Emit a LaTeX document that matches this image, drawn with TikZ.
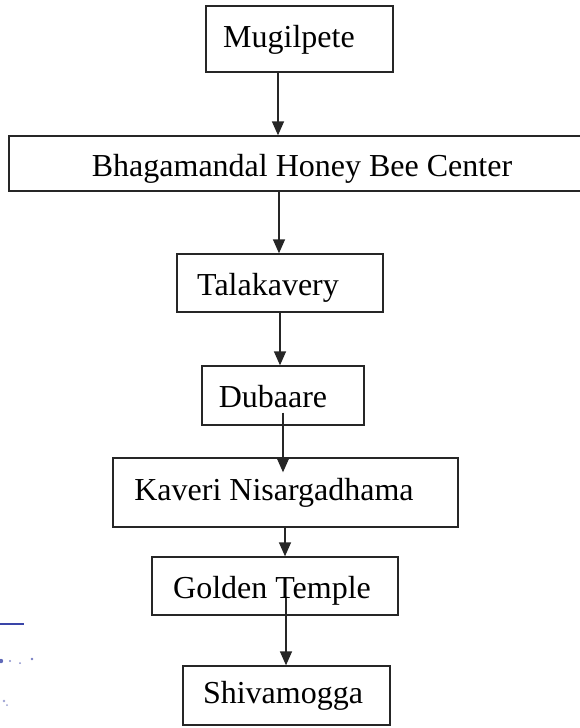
\documentclass[tikz,border=0pt]{standalone}
\usepackage{fontspec}
\setmainfont{Liberation Serif}
\usetikzlibrary{arrows.meta}
\definecolor{ink}{HTML}{262626}
\definecolor{stampblue}{HTML}{3A45A8}
\begin{document}
\begin{tikzpicture}[x=1pt,y=-1pt,
  box/.style={draw=ink,line width=1.3pt,rectangle,inner sep=0pt},
  lbl/.style={anchor=base,inner sep=0pt,text=black,font=\fontsize{32}{38}\selectfont},
  arr/.style={draw=ink,line width=1.4pt,-{Triangle[length=14pt,width=12pt]}},
  seg/.style={draw=ink,line width=1.4pt}]
\useasboundingbox (0,0) rectangle (580,728);
\begin{scope}
\clip (0,0) rectangle (580,728);
% boxes
\node[box,minimum width=187pt,minimum height=66pt] (mug)  at (299.5,39) {};
\node[box,minimum width=577pt,minimum height=55pt] (bhag) at (297.5,163.5) {};
\node[box,minimum width=206pt,minimum height=58pt] (tala) at (280,283) {};
\node[box,minimum width=162pt,minimum height=59pt] (duba) at (283,395.5) {};
\node[box,minimum width=345pt,minimum height=69pt] (kave) at (285.5,492.5) {};
\node[box,minimum width=246pt,minimum height=58pt] (gold) at (275,586) {};
\node[box,minimum width=207pt,minimum height=59pt] (shiv) at (286.5,695.5) {};
% labels
\node[lbl] (tmug)  at (289,47)  {Mugilpete};
\node[lbl] (tbhag) at (302,176) {Bhagamandal Honey Bee Center};
\node[lbl] (ttala) at (268,295) {Talakavery};
\node[lbl] (tduba) at (273,407) {Dubaare};
\node[lbl] (tkave) at (274,500) {Kaveri Nisargadhama};
\node[lbl] (tgold) at (272,598) {Golden Temple};
\node[lbl] (tshiv) at (283,703) {Shivamogga};
% arrow x positions
\coordinate (a1) at (278,0);
\coordinate (a2) at (279,0);
\coordinate (a3) at (280,0);
\coordinate (a4) at (283,0);
\coordinate (a5) at (285,0);
\coordinate (a6) at (286,0);
% connectors
\draw[arr] (mug.south -| a1) -- (bhag.north -| a1);
\draw[arr] (bhag.south -| a2) -- (tala.north -| a2);
\draw[arr] (tala.south -| a3) -- (duba.north -| a3);
\draw[arr] ([yshift=13pt]duba.south -| a4) -- ([yshift=-15pt]kave.north -| a4);
\draw[arr] (kave.south -| a5) -- (gold.north -| a5);
\draw[arr] ([yshift=18pt]gold.south -| a6) -- (shiv.north -| a6);
% stamp fragment
\draw[stampblue,line width=1.2pt] (0,624) -- (24,624);
\fill[stampblue!80] (1,661) circle (2.2pt);
\fill[stampblue!60] (10,661) circle (1.2pt);
\fill[stampblue!60] (20,663) circle (1pt);
\fill[stampblue!70] (32,659) circle (1.4pt);
\fill[stampblue!50] (4,701) circle (1.3pt);
\fill[stampblue!50] (7,705) circle (1pt);
\end{scope}
\end{tikzpicture}
\end{document}
